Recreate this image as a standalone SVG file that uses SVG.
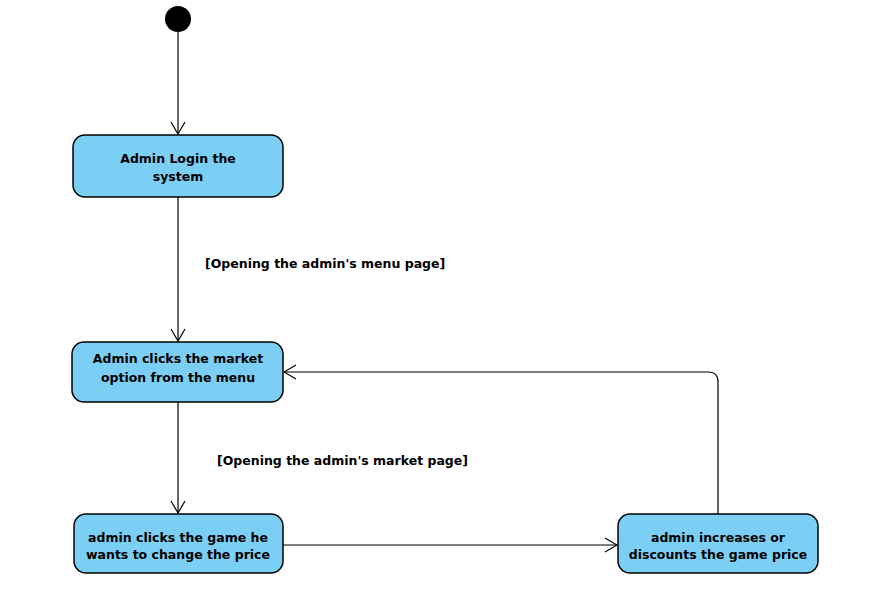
<svg xmlns="http://www.w3.org/2000/svg" width="879" height="603" viewBox="0 0 879 603">
<style>
.node rect{fill:#7bcff5;stroke:#000;stroke-width:1.5}
.t{font-family:"DejaVu Sans",Verdana,sans-serif;font-weight:bold;font-size:12.5px;fill:#000;text-anchor:middle}
.lbl{font-family:"DejaVu Sans",Verdana,sans-serif;font-weight:bold;font-size:12.5px;fill:#000}
.c{fill:none;stroke:#000;stroke-width:1.2}
</style>
<defs>
<marker id="arr" markerWidth="14" markerHeight="16" refX="13" refY="8" orient="auto" markerUnits="userSpaceOnUse">
<path d="M1,1 L13,8 L1,15" fill="none" stroke="#000" stroke-width="1.2"/>
</marker>
</defs>
<rect width="879" height="603" fill="#fff"/>
<g id="connectors">
<line class="c" x1="178" y1="32" x2="178" y2="134" marker-end="url(#arr)"/>
<line class="c" x1="178" y1="197" x2="178" y2="341" marker-end="url(#arr)"/>
<line class="c" x1="178" y1="402" x2="178" y2="513" marker-end="url(#arr)"/>
<line class="c" x1="283" y1="545" x2="617" y2="545" marker-end="url(#arr)"/>
<path class="c" d="M718,514 L718,382 Q718,372 708,372 L284,372" marker-end="url(#arr)"/>
<text class="lbl" x="205" y="268">[Opening the admin's menu page]</text>
<text class="lbl" x="217" y="465">[Opening the admin's market page]</text>
</g>
<g id="start"><circle cx="178" cy="19" r="13" fill="#000"/></g>
<g id="n1" class="node"><rect x="73" y="135" width="210" height="62" rx="12"/>
<text class="t" x="178" y="163">Admin Login the</text><text class="t" x="178" y="181">system</text></g>
<g id="n2" class="node"><rect x="72" y="342" width="211" height="60" rx="12"/>
<text class="t" x="178" y="363">Admin clicks the market</text><text class="t" x="178" y="382">option from the menu</text></g>
<g id="n3" class="node"><rect x="74" y="514" width="209" height="59" rx="12"/>
<text class="t" x="178" y="542">admin clicks the game he</text><text class="t" x="178" y="559">wants to change the price</text></g>
<g id="n4" class="node"><rect x="618" y="514" width="200" height="59" rx="12"/>
<text class="t" x="718" y="542">admin increases or</text><text class="t" x="718" y="559">discounts the game price</text></g>
</svg>
